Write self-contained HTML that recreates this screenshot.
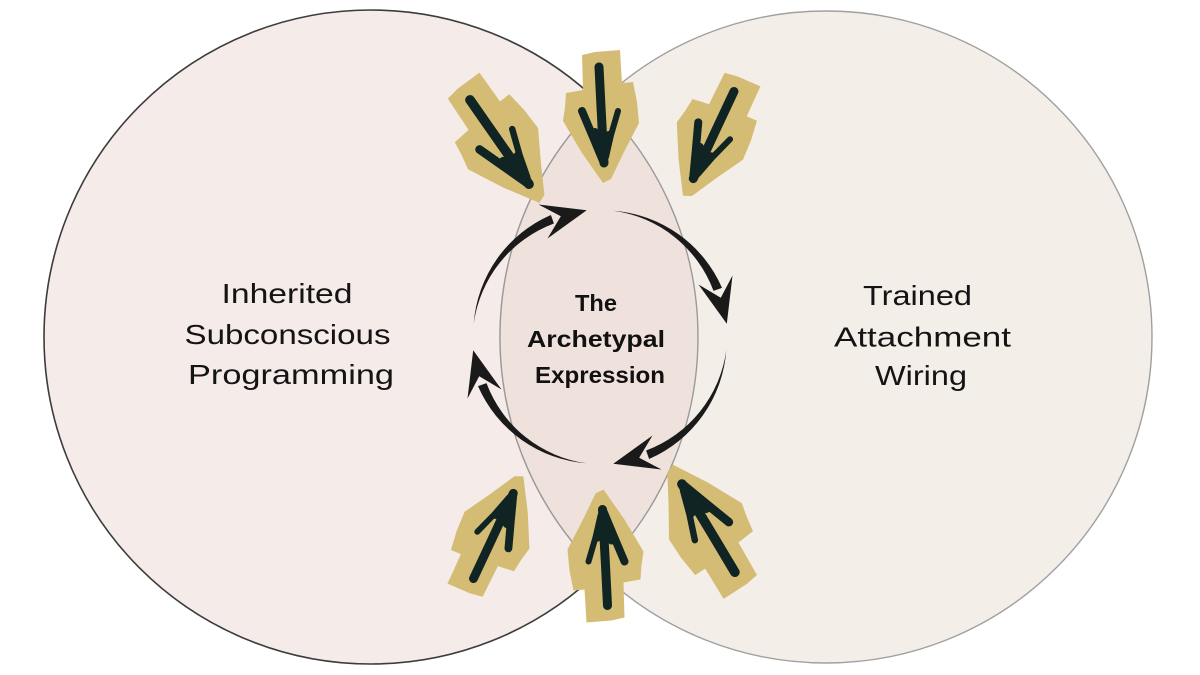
<!DOCTYPE html>
<html>
<head>
<meta charset="utf-8">
<style>
  html,body{margin:0;padding:0;background:#ffffff;}
  svg{display:block;}
  .lbl{font-family:"Liberation Sans",Arial,sans-serif;font-size:27.5px;fill:#141414;}
  .ctr{font-family:"Liberation Sans",Arial,sans-serif;font-size:23.5px;font-weight:bold;fill:#111111;}
</style>
</head>
<body>
<svg width="1200" height="675" viewBox="0 0 1200 675" xmlns="http://www.w3.org/2000/svg">
  <defs>
    <g id="badge">
      <polygon points="-21,-62 -8,-65 17,-67 18,-50 19,-34 30,-35 34,-15 36,6 21,35 8,62 0,66 -21,36 -40,4 -38,-10 -37,-24 -20,-27" fill="#d5bc74"/>
      <g stroke="#102424" stroke-linecap="round" stroke-linejoin="round" fill="none">
        <path d="M-4,-50 L-2,-10 L1,46" stroke-width="9"/>
        <path d="M-21,-6 L-10,20 L0,44" stroke-width="8"/>
        <path d="M15,-6 L8,18 L3,40" stroke-width="6"/>
        <path d="M-8,15 L0,40 L6,18" stroke-width="8"/>
      </g>
    </g>
    <g id="carrow">
      <path d="M473.7,323.7 A129,129 0 0 1 550.9,215.0 L553.9,223.5 A125,125 0 0 0 473.7,323.7 Z" fill="#1a1a1a"/>
      <path d="M586.7,210.2 L538.5,204.5 L560.8,216.2 L547.5,238.5 Z" fill="#1a1a1a"/>
    </g>
  </defs>

  <!-- circles -->
  <circle cx="371" cy="337" r="327" fill="#f5ebe9" stroke="#3c3c3c" stroke-width="1.6"/>
  <circle cx="826" cy="337" r="326" fill="#f4eee9" stroke="#a0a0a0" stroke-width="1.4"/>
  <!-- lens -->
  <path d="M599.2,102.8 A327,327 0 0 1 599.2,571.2 A326,326 0 0 1 599.2,102.8 Z" fill="#efe2dc" stroke="#9a9a9a" stroke-width="1.4"/>

  <!-- labels -->
  <text class="lbl" x="287" y="303" text-anchor="middle" textLength="131" lengthAdjust="spacingAndGlyphs">Inherited</text>
  <text class="lbl" x="287.5" y="344" text-anchor="middle" textLength="206" lengthAdjust="spacingAndGlyphs">Subconscious</text>
  <text class="lbl" x="291" y="384" text-anchor="middle" textLength="206" lengthAdjust="spacingAndGlyphs">Programming</text>

  <text class="lbl" x="917.5" y="305" text-anchor="middle" textLength="109" lengthAdjust="spacingAndGlyphs">Trained</text>
  <text class="lbl" x="922.5" y="346.5" text-anchor="middle" textLength="177" lengthAdjust="spacingAndGlyphs">Attachment</text>
  <text class="lbl" x="921" y="385" text-anchor="middle" textLength="92" lengthAdjust="spacingAndGlyphs">Wiring</text>

  <text class="ctr" x="596" y="311" text-anchor="middle" textLength="42" lengthAdjust="spacingAndGlyphs">The</text>
  <text class="ctr" x="596" y="347" text-anchor="middle" textLength="138" lengthAdjust="spacingAndGlyphs">Archetypal</text>
  <text class="ctr" x="600" y="383" text-anchor="middle" textLength="130" lengthAdjust="spacingAndGlyphs">Expression</text>

  <!-- cycle arrows -->
  <use href="#carrow"/>
  <use href="#carrow" transform="rotate(90 600 337)"/>
  <use href="#carrow" transform="rotate(180 600 337)"/>
  <use href="#carrow" transform="rotate(270 600 337)"/>

  <!-- gold badges -->
  <use href="#badge" transform="translate(502 143) rotate(-32) scale(1.07)"/>
  <use href="#badge" transform="translate(603 117) rotate(0)"/>
  <use href="#badge" transform="translate(714 137.5) rotate(28)"/>
  <use href="#badge" transform="translate(493 533.5) rotate(208) scale(0.98)"/>
  <use href="#badge" transform="translate(603.5 555.5) rotate(180)"/>
  <use href="#badge" transform="translate(706 527) rotate(152) scale(1.07)"/>
</svg>
</body>
</html>
